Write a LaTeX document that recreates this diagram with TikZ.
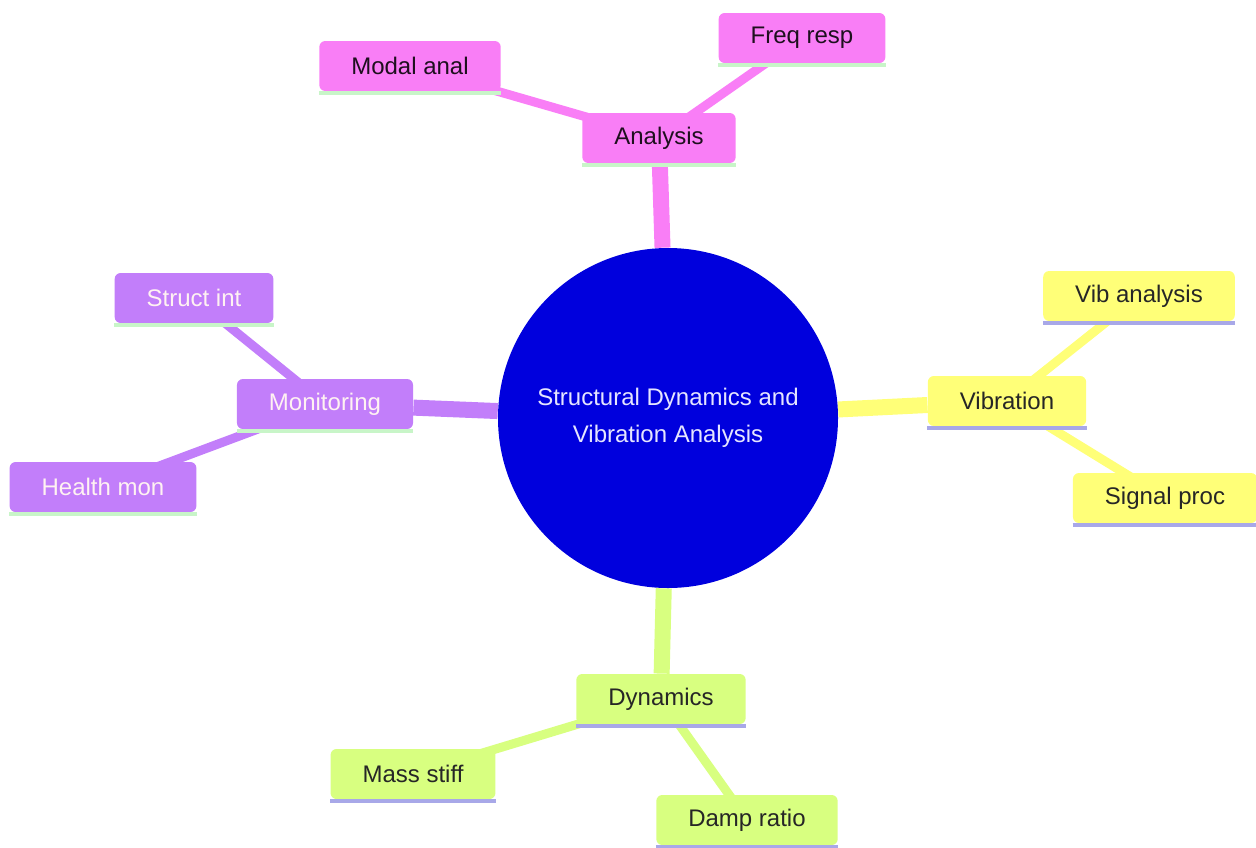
\documentclass[tikz,border=0pt]{standalone}
\usepackage{fontspec}
\setmainfont{Liberation Sans}
\usetikzlibrary{backgrounds}
\definecolor{pinkbr}{HTML}{F97EF6}
\definecolor{yellowbr}{HTML}{FFFF78}
\definecolor{purplebr}{HTML}{C27EFA}
\definecolor{greenbr}{HTML}{D8FF80}
\definecolor{rootblue}{HTML}{0000DD}
\definecolor{mintline}{HTML}{C8F5C8}
\definecolor{lavline}{HTML}{A8A8E8}
\tikzset{
	topic/.style={rounded corners=3pt, minimum height=25pt, inner xsep=16pt, inner ysep=0pt,
		font=\fontsize{12}{14}\selectfont},
	trunk/.style={line width=8pt},
	twig/.style={line width=4.5pt}
}

\begin{document}
\begin{tikzpicture}[x=0.5pt, y=-0.5pt]

	% frame of the picture
	\useasboundingbox (0,0) rectangle (1256,847);

	% root
	\node[circle, fill=rootblue, minimum size=170pt, inner sep=0pt, align=center,
		text=blue!10, font=\fontsize{12}{18.5}\selectfont] (root) at (668,418)
		{Structural Dynamics and\\Vibration Analysis};

	% analysis branch
	\node[topic, fill=pinkbr, text=black!80!pinkbr!60!black] (ana) at (659,138) {Analysis};
	\node[topic, fill=pinkbr, text=black!80!pinkbr!60!black] (modal) at (410,66) {Modal anal};
	\node[topic, fill=pinkbr, text=black!80!pinkbr!60!black] (freq) at (802,38) {Freq resp};

	% vibration branch
	\node[topic, fill=yellowbr, text=black!85] (vib) at (1007,401) {Vibration};
	\node[topic, fill=yellowbr, text=black!85] (viban) at (1139,296) {Vib analysis};
	\node[topic, fill=yellowbr, text=black!85] (sig) at (1165,498) {Signal proc};

	% monitoring branch
	\node[topic, fill=purplebr, text=pink!20] (mon) at (325,404) {Monitoring};
	\node[topic, fill=purplebr, text=pink!20] (struct) at (194,298) {Struct int};
	\node[topic, fill=purplebr, text=pink!20] (health) at (103,487) {Health mon};

	% dynamics branch
	\node[topic, fill=greenbr, text=black!85] (dyn) at (661,699) {Dynamics};
	\node[topic, fill=greenbr, text=black!85] (mass) at (413,774) {Mass stiff};
	\node[topic, fill=greenbr, text=black!85] (damp) at (747,820) {Damp ratio};

	% strips under the boxes
	\foreach \n in {ana,modal,freq,mon,struct,health}
		\draw[mintline, line width=1.8pt] ([yshift=-0.9pt]\n.south west) -- ([yshift=-0.9pt]\n.south east);
	\foreach \n in {vib,viban,sig,dyn,mass,damp}
		\draw[lavline, line width=1.8pt] ([yshift=-0.9pt]\n.south west) -- ([yshift=-0.9pt]\n.south east);

	% connectors
	\begin{scope}[on background layer]
		\draw[trunk, pinkbr] (root) -- (ana);
		\draw[twig, pinkbr] (ana.center) -- (modal.center);
		\draw[twig, pinkbr] (ana.center) -- (freq.center);
		\draw[trunk, yellowbr] (root) -- (vib);
		\draw[twig, yellowbr] (vib.center) -- (viban.center);
		\draw[twig, yellowbr] (vib.center) -- (sig.center);
		\draw[trunk, purplebr] (root) -- (mon);
		\draw[twig, purplebr] (mon.center) -- (struct.center);
		\draw[twig, purplebr] (mon.center) -- (health.center);
		\draw[trunk, greenbr] (root) -- (dyn);
		\draw[twig, greenbr] (dyn.center) -- (mass.center);
		\draw[twig, greenbr] (dyn.center) -- (damp.center);
	\end{scope}

\end{tikzpicture}
\end{document}
